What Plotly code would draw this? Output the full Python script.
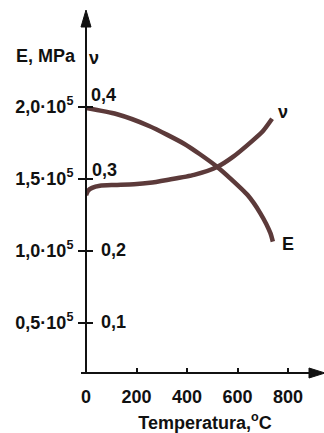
import plotly.graph_objects as go

# ---- data ----
temp_E = [0, 120, 250, 390, 450, 520, 570, 640, 690, 730, 740]            # °C
E_MPa = [199000, 194800, 186500, 174000, 167000, 158000, 150300, 138500,
         126000, 112200, 106200]                                          # MPa
temp_nu = [0, 8, 24, 55, 115, 190, 253, 321, 428, 519, 582, 661, 701, 737]  # °C
nu = [0.277, 0.283, 0.287, 0.290, 0.291, 0.292, 0.294, 0.298, 0.305,
      0.316, 0.330, 0.353, 0.366, 0.383]

x_ticks = [0, 200, 400, 600, 800]
E_ticks = [50000, 100000, 150000, 200000]
E_tick_text = ["0,5·10<sup>5</sup>", "1,0·10<sup>5</sup>", "1,5·10<sup>5</sup>", "2,0·10<sup>5</sup>"]
nu_ticks = [0.1, 0.2, 0.3, 0.4]
nu_tick_text = ["0,1", "0,2", "0,3", "0,4"]

# ---- layout geometry ----
W, H = 324, 433
L, R, T, B = 86, 324, 0, 373
PW, PH = R - L, B - T
x_range = [0, 942.6]
E_range = [14930, 273960]
nu_range = [E_range[0] / 5e5, E_range[1] / 5e5]

FONT = "Liberation Sans, Arial, sans-serif"
INK = "#111111"
CURVE = "#5c3a3a"
FS = 18


def px(x):
    return (x - L) / PW


def py(y):
    return (B - y) / PH


fig = go.Figure()
fig.add_trace(go.Scatter(x=temp_E, y=E_MPa, mode="lines", name="E",
                         line=dict(color=CURVE, width=4.5, shape="spline", smoothing=0.6),
                         showlegend=False, cliponaxis=False, hoverinfo="skip"))
fig.add_trace(go.Scatter(x=temp_nu, y=nu, mode="lines", name="ν", yaxis="y2",
                         line=dict(color=CURVE, width=4.5, shape="spline", smoothing=0.6),
                         showlegend=False, cliponaxis=False, hoverinfo="skip"))

tick_font = dict(family=FONT, size=FS, color=INK, weight="bold")

fig.update_layout(
    width=W, height=H,
    margin=dict(l=L, r=W - R, t=T, b=H - B, pad=0),
    paper_bgcolor="white", plot_bgcolor="white",
    showlegend=False,
    xaxis=dict(range=x_range, tickvals=x_ticks, ticktext=[str(v) for v in x_ticks],
               ticks="inside", ticklen=5, tickwidth=1.5, tickcolor=INK,
               showline=False, showgrid=False, zeroline=False,
               tickfont=tick_font, ticklabelstandoff=11,
               title=dict(text="Temperatura,<sup>o</sup>C", font=tick_font, standoff=11)),
    yaxis=dict(range=E_range, tickvals=E_ticks, ticktext=E_tick_text,
               ticks="outside", ticklen=7, tickwidth=1.5, tickcolor=INK,
               showline=False, showgrid=False, zeroline=False,
               tickfont=tick_font, ticklabelstandoff=1),
    yaxis2=dict(range=nu_range, tickvals=nu_ticks, overlaying="y", side="left",
                ticks="inside", ticklen=7, tickwidth=1.5, tickcolor=INK,
                showticklabels=False, showline=False, showgrid=False, zeroline=False),
)

# axis lines and arrowheads
fig.add_shape(type="line", xref="paper", yref="paper", x0=px(81), x1=px(314),
              y0=0, y1=0, line=dict(color=INK, width=2))
fig.add_shape(type="line", xref="paper", yref="paper", x0=0, x1=0,
              y0=0, y1=py(22), line=dict(color=INK, width=2))
fig.add_shape(type="path", xref="paper", yref="paper", xsizemode="pixel", ysizemode="pixel",
              xanchor=0, yanchor=1, path="M-5,-27L5,-27L0,-10Z",
              fillcolor=INK, line=dict(color=INK, width=1))
fig.add_shape(type="path", xref="paper", yref="paper", xsizemode="pixel", ysizemode="pixel",
              xanchor=1, yanchor=0, path="M-15,-5L-15,5L1,0Z",
              fillcolor=INK, line=dict(color=INK, width=1))

lab_font = dict(family=FONT, size=FS, color=INK, weight="bold")


def note(text, x, y, xanchor="center", font=lab_font):
    fig.add_annotation(text=text, xref="paper", yref="paper", x=px(x), y=py(y),
                       xanchor=xanchor, yanchor="middle", showarrow=False, font=font)


# axis headers
note("E, MPa", 46, 56)
note("ν", 94, 58)

# Poisson ratio tick labels (right of the axis)
nu_label_pos = {0.4: (89, 95), 0.3: (90, 170), 0.2: (99, 250), 0.1: (99, 322)}
for v, t in zip(nu_ticks, nu_tick_text):
    xx, yy = nu_label_pos[v]
    note(t, xx, yy, xanchor="left")

# curve labels
note("ν", 283, 112)
note("E", 288, 244)

fig.write_html("out.html", config={"displayModeBar": False},
               post_script="document.body.style.margin='0';document.body.style.overflow='hidden';")
